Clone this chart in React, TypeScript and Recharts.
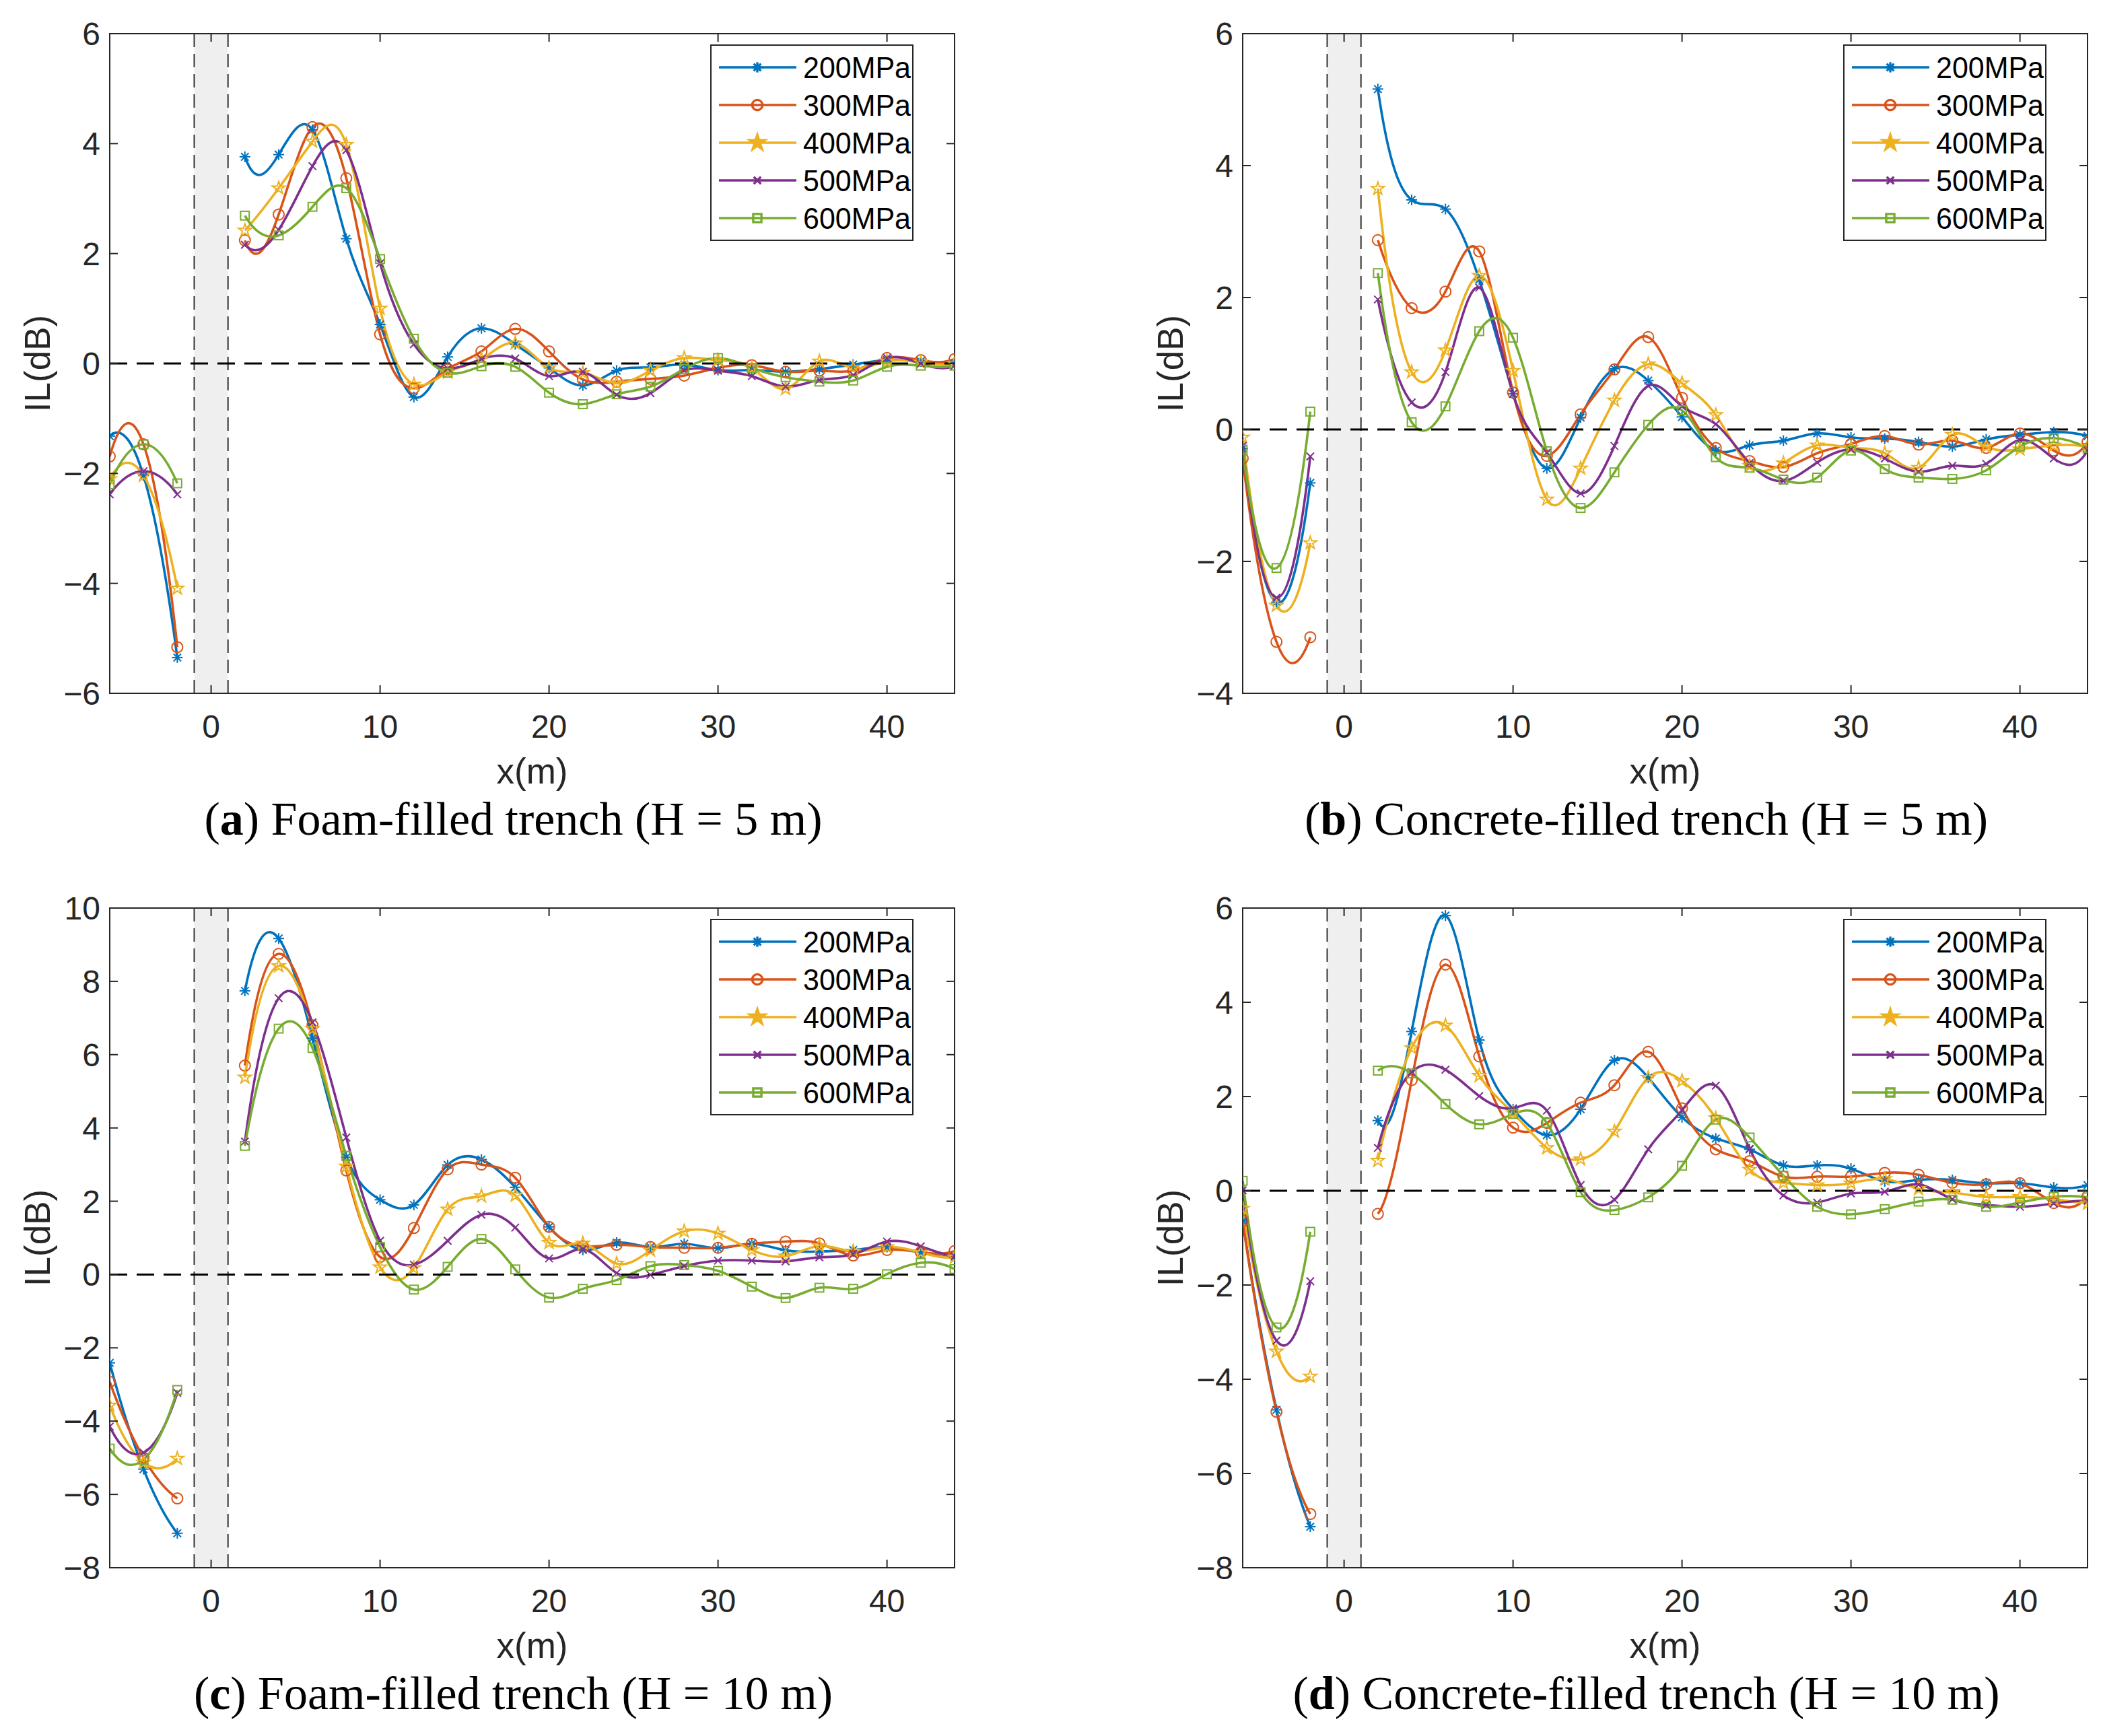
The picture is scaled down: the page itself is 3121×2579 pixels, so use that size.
import React from "react";
import {
  LineChart,
  Line,
  XAxis,
  YAxis,
  ReferenceArea,
  ReferenceLine,
} from "recharts";

// positions along the ground surface (m); the trench sits between -1 and 1
const X_POS = [-6, -4, -2, 2, 4, 6, 8, 10, 12, 14, 16, 18, 20, 22, 24, 26, 28, 30, 32, 34, 36, 38, 40, 42, 44];
const X_TICKS = [0, 10, 20, 30, 40];

const SERIES = ["200MPa", "300MPa", "400MPa", "500MPa", "600MPa"];
const COLORS = ["#0072BD", "#D95319", "#EDB120", "#7E2F8E", "#77AC30"];
const MARKERS = ["asterisk", "circle", "star", "cross", "square"];

// (a) foam-filled trench, H = 5 m
const A_200 = [-1.32, -2.04, -5.35, 3.76, 3.8, 4.25, 2.27, 0.71, -0.61, 0.12, 0.64, 0.35, -0.08, -0.4, -0.13, -0.07, -0.02, -0.12, -0.12, -0.15, -0.1, -0.02, 0.06, 0.04, 0.0];
const A_300 = [-1.69, -1.47, -5.16, 2.24, 2.71, 4.3, 3.37, 0.53, -0.45, -0.1, 0.22, 0.63, 0.22, -0.29, -0.33, -0.28, -0.22, -0.08, -0.03, -0.15, -0.13, -0.13, 0.1, 0.06, 0.08];
const A_400 = [-2.1, -2.04, -4.09, 2.42, 3.19, 4.04, 3.98, 1.0, -0.38, -0.16, 0.08, 0.37, -0.08, -0.17, -0.36, -0.13, 0.1, 0.06, -0.08, -0.46, 0.04, -0.08, 0.04, 0.02, 0.0];
const A_500 = [-2.38, -1.96, -2.38, 2.16, 2.43, 3.59, 3.88, 1.82, 0.35, -0.09, 0.08, 0.09, -0.23, -0.15, -0.57, -0.54, -0.13, -0.13, -0.23, -0.42, -0.3, -0.21, 0.1, 0.0, -0.04];
const A_600 = [-2.2, -1.47, -2.18, 2.69, 2.33, 2.85, 3.19, 1.9, 0.45, -0.17, -0.05, -0.06, -0.53, -0.74, -0.56, -0.42, -0.1, 0.1, -0.08, -0.25, -0.33, -0.31, -0.06, -0.04, -0.04];

// (b) concrete-filled trench, H = 5 m
const B_200 = [-0.29, -2.62, -0.81, 5.16, 3.48, 3.34, 2.27, 0.54, -0.59, 0.18, 0.92, 0.74, 0.19, -0.32, -0.24, -0.17, -0.06, -0.12, -0.14, -0.19, -0.26, -0.15, -0.08, -0.04, -0.1];
const B_300 = [-0.44, -3.22, -3.15, 2.87, 1.84, 2.09, 2.7, 0.56, -0.4, 0.23, 0.91, 1.4, 0.48, -0.28, -0.48, -0.57, -0.36, -0.22, -0.1, -0.23, -0.17, -0.28, -0.06, -0.32, -0.19];
const B_400 = [-0.12, -2.67, -1.72, 3.65, 0.87, 1.2, 2.33, 0.89, -1.06, -0.59, 0.44, 0.99, 0.7, 0.22, -0.55, -0.51, -0.24, -0.28, -0.36, -0.58, -0.08, -0.26, -0.3, -0.24, -0.26];
const B_500 = [-0.25, -2.55, -0.41, 1.97, 0.41, 0.87, 2.15, 0.54, -0.35, -0.97, -0.25, 0.66, 0.35, 0.08, -0.51, -0.78, -0.5, -0.3, -0.44, -0.64, -0.55, -0.52, -0.16, -0.44, -0.32];
const B_600 = [-0.31, -2.1, 0.27, 2.37, 0.11, 0.35, 1.49, 1.39, -0.33, -1.19, -0.65, 0.07, 0.29, -0.42, -0.58, -0.76, -0.73, -0.32, -0.6, -0.73, -0.75, -0.62, -0.26, -0.13, -0.28];

// (c) foam-filled trench, H = 10 m
const C_200 = [-2.41, -5.31, -7.06, 7.74, 9.17, 6.45, 3.2, 2.04, 1.9, 2.99, 3.14, 2.38, 1.3, 0.67, 0.87, 0.75, 0.84, 0.72, 0.84, 0.66, 0.63, 0.67, 0.75, 0.6, 0.47];
const C_300 = [-2.93, -5.0, -6.11, 5.7, 8.75, 6.8, 2.84, 0.48, 1.27, 2.87, 3.0, 2.64, 1.3, 0.77, 0.81, 0.75, 0.73, 0.73, 0.84, 0.9, 0.85, 0.52, 0.67, 0.61, 0.64];
const C_400 = [-3.57, -5.13, -5.02, 5.38, 8.42, 6.7, 2.95, 0.2, 0.18, 1.78, 2.14, 2.16, 0.87, 0.85, 0.3, 0.66, 1.18, 1.12, 0.67, 0.5, 0.78, 0.63, 0.75, 0.6, 0.47];
const C_500 = [-4.15, -4.86, -3.23, 3.63, 7.54, 6.88, 3.74, 0.92, 0.27, 0.92, 1.63, 1.28, 0.44, 0.69, 0.04, -0.01, 0.23, 0.38, 0.38, 0.36, 0.47, 0.55, 0.9, 0.77, 0.5];
const C_600 = [-4.75, -5.05, -3.15, 3.51, 6.71, 6.18, 3.24, 0.75, -0.41, 0.21, 0.97, 0.14, -0.63, -0.39, -0.15, 0.23, 0.26, 0.1, -0.33, -0.64, -0.36, -0.39, 0.01, 0.32, 0.15];

// (d) concrete-filled trench, H = 10 m
const D_200 = [-0.64, -4.65, -7.13, 1.49, 3.38, 5.84, 3.2, 1.73, 1.18, 1.73, 2.77, 2.4, 1.56, 1.11, 0.88, 0.54, 0.54, 0.47, 0.2, 0.23, 0.23, 0.16, 0.16, 0.07, 0.12];
const D_300 = [-0.64, -4.69, -6.86, -0.49, 2.35, 4.8, 2.85, 1.34, 1.44, 1.87, 2.24, 2.95, 1.75, 0.88, 0.63, 0.3, 0.3, 0.3, 0.38, 0.34, 0.17, 0.14, 0.16, -0.26, -0.12];
const D_400 = [-0.38, -3.41, -3.94, 0.64, 3.03, 3.51, 2.44, 1.65, 0.91, 0.67, 1.26, 2.4, 2.33, 1.54, 0.45, 0.17, 0.12, 0.16, 0.25, 0.04, -0.04, -0.13, -0.13, -0.18, -0.27];
const D_500 = [0.01, -3.18, -1.92, 0.91, 2.52, 2.57, 2.01, 1.75, 1.7, 0.12, -0.19, 0.88, 1.71, 2.23, 0.89, -0.1, -0.25, -0.06, -0.02, 0.13, -0.18, -0.3, -0.34, -0.27, -0.21];
const D_600 = [0.21, -2.9, -0.87, 2.55, 2.49, 1.84, 1.41, 1.63, 1.44, -0.03, -0.41, -0.14, 0.53, 1.51, 1.13, 0.32, -0.34, -0.5, -0.39, -0.23, -0.19, -0.34, -0.25, -0.13, -0.14];

const TICKS_A = [-6, -4, -2, 0, 2, 4, 6];
const TICKS_B = [-4, -2, 0, 2, 4, 6];
const TICKS_C = [-8, -6, -4, -2, 0, 2, 4, 6, 8, 10];
const TICKS_D = [-8, -6, -4, -2, 0, 2, 4, 6];

// chart geometry (same inside every panel)
const CW = 1440;
const CH = 1120;
const PL = 163;
const PR = 1418;
const PT = 50;
const PB = 1030;
const AXIS = "#262626";
const SANS = "'Liberation Sans', Arial, Helvetica, sans-serif";
const SERIF = "'Liberation Serif', 'Times New Roman', serif";
const TICK_FONT = 48;

const PANELS = [
  { key: "a", left: 0, top: 0, values: [A_200, A_300, A_400, A_500, A_600], ticks: TICKS_A, label: "Foam-filled trench (H = 5 m)" },
  { key: "b", left: 1683, top: 0, values: [B_200, B_300, B_400, B_500, B_600], ticks: TICKS_B, label: "Concrete-filled trench (H = 5 m)" },
  { key: "c", left: 0, top: 1299, values: [C_200, C_300, C_400, C_500, C_600], ticks: TICKS_C, label: "Foam-filled trench (H = 10 m)" },
  { key: "d", left: 1683, top: 1299, values: [D_200, D_300, D_400, D_500, D_600], ticks: TICKS_D, label: "Concrete-filled trench (H = 10 m)" },
];

const fmt = (v: number) => (v < 0 ? `\u2212${Math.abs(v)}` : `${v}`);

// MATLAB-like 'spline' (not-a-knot cubic) as a d3 curve factory
function solve(A: number[][], b: number[]) {
  const n = b.length;
  for (let c = 0; c < n; c++) {
    let p = c;
    for (let r = c + 1; r < n; r++) if (Math.abs(A[r][c]) > Math.abs(A[p][c])) p = r;
    [A[c], A[p]] = [A[p], A[c]];
    [b[c], b[p]] = [b[p], b[c]];
    for (let r = c + 1; r < n; r++) {
      const f = A[r][c] / A[c][c];
      for (let k = c; k < n; k++) A[r][k] -= f * A[c][k];
      b[r] -= f * b[c];
    }
  }
  const x = new Array(n).fill(0);
  for (let r = n - 1; r >= 0; r--) {
    let s = b[r];
    for (let k = r + 1; k < n; k++) s -= A[r][k] * x[k];
    x[r] = s / A[r][r];
  }
  return x;
}

function drawSpline(ctx: any, xs: number[], ys: number[]) {
  const n = xs.length;
  if (!n) return;
  ctx.moveTo(xs[0], ys[0]);
  if (n === 1) return;
  if (n === 2) {
    ctx.lineTo(xs[1], ys[1]);
    return;
  }
  const h: number[] = [];
  const d: number[] = [];
  for (let i = 0; i < n - 1; i++) {
    h[i] = xs[i + 1] - xs[i];
    d[i] = (ys[i + 1] - ys[i]) / h[i];
  }
  let M: number[];
  if (n === 3) {
    const c = (2 * (d[1] - d[0])) / (xs[2] - xs[0]);
    M = [c, c, c];
  } else {
    const A = Array.from({ length: n }, () => new Array(n).fill(0));
    const b = new Array(n).fill(0);
    A[0][0] = h[1];
    A[0][1] = -(h[0] + h[1]);
    A[0][2] = h[0];
    for (let i = 1; i < n - 1; i++) {
      A[i][i - 1] = h[i - 1];
      A[i][i] = 2 * (h[i - 1] + h[i]);
      A[i][i + 1] = h[i];
      b[i] = 6 * (d[i] - d[i - 1]);
    }
    A[n - 1][n - 3] = h[n - 2];
    A[n - 1][n - 2] = -(h[n - 3] + h[n - 2]);
    A[n - 1][n - 1] = h[n - 3];
    M = solve(A, b);
  }
  for (let i = 0; i < n - 1; i++) {
    const s0 = d[i] - (h[i] * (2 * M[i] + M[i + 1])) / 6;
    const s1 = d[i] + (h[i] * (M[i] + 2 * M[i + 1])) / 6;
    ctx.bezierCurveTo(
      xs[i] + h[i] / 3, ys[i] + (s0 * h[i]) / 3,
      xs[i + 1] - h[i] / 3, ys[i + 1] - (s1 * h[i]) / 3,
      xs[i + 1], ys[i + 1]
    );
  }
}

function splineCurve(context: any) {
  let xs: number[] = [];
  let ys: number[] = [];
  return {
    areaStart() {},
    areaEnd() {},
    lineStart() {
      xs = [];
      ys = [];
    },
    lineEnd() {
      drawSpline(context, xs, ys);
    },
    point(x: number, y: number) {
      xs.push(+x);
      ys.push(+y);
    },
  };
}

function Marker({ kind, cx, cy, color, sw, s = 1, filled = false }: any) {
  const common = { stroke: color, strokeWidth: sw, fill: "none" };
  if (kind === "circle") return <circle cx={cx} cy={cy} r={8 * s} {...common} />;
  if (kind === "square") {
    const a = 6.4 * s;
    return <rect x={cx - a} y={cy - a} width={2 * a} height={2 * a} {...common} />;
  }
  if (kind === "cross") {
    const a = 5.6 * s;
    return (
      <g {...common}>
        <line x1={cx - a} y1={cy - a} x2={cx + a} y2={cy + a} />
        <line x1={cx - a} y1={cy + a} x2={cx + a} y2={cy - a} />
      </g>
    );
  }
  if (kind === "asterisk") {
    const r = 8 * s;
    const q = r * 0.707;
    return (
      <g {...common}>
        <line x1={cx - r} y1={cy} x2={cx + r} y2={cy} />
        <line x1={cx} y1={cy - r} x2={cx} y2={cy + r} />
        <line x1={cx - q} y1={cy - q} x2={cx + q} y2={cy + q} />
        <line x1={cx - q} y1={cy + q} x2={cx + q} y2={cy - q} />
      </g>
    );
  }
  const R = 10 * s;
  const pts = Array.from({ length: 10 }, (_, i) => {
    const ang = (-90 + i * 36) * (Math.PI / 180);
    const r = i % 2 === 0 ? R : R * 0.382;
    return `${cx + r * Math.cos(ang)},${cy + r * Math.sin(ang)}`;
  }).join(" ");
  return <polygon points={pts} {...common} fill={filled ? color : "none"} strokeLinejoin="miter" />;
}

function buildRows(values: number[][]) {
  const rows: any[] = [];
  X_POS.forEach((x, i) => {
    if (x === 2) {
      const gap: any = { x: 0 };
      values.forEach((_, k) => (gap[`s${k}`] = null));
      rows.push(gap);
    }
    const row: any = { x };
    values.forEach((v, k) => (row[`s${k}`] = v[i]));
    rows.push(row);
  });
  return rows;
}

const XTick = ({ x, payload }: any) => (
  <g>
    <line x1={x} x2={x} y1={PB} y2={PB - 12} stroke={AXIS} strokeWidth={2} />
    <line x1={x} x2={x} y1={PT} y2={PT + 12} stroke={AXIS} strokeWidth={2} />
    <text x={x} y={PB + 66} textAnchor="middle" fontFamily={SANS} fontSize={TICK_FONT} fill={AXIS}>
      {fmt(payload.value)}
    </text>
  </g>
);

const YTick = ({ y, payload }: any) => (
  <g>
    <line x1={PL} x2={PL + 12} y1={y} y2={y} stroke={AXIS} strokeWidth={2} />
    <line x1={PR} x2={PR - 12} y1={y} y2={y} stroke={AXIS} strokeWidth={2} />
    <text x={PL - 14} y={y + 17} textAnchor="end" fontFamily={SANS} fontSize={TICK_FONT} fill={AXIS}>
      {fmt(payload.value)}
    </text>
  </g>
);

function Panel({ values, ticks }: { values: number[][]; ticks: number[] }) {
  const rows = buildRows(values);
  const lo = ticks[0];
  const hi = ticks[ticks.length - 1];
  return (
    <LineChart width={CW} height={CH} data={rows} margin={{ top: PT, right: CW - PR, bottom: 30, left: 13 }}>
      <XAxis
        dataKey="x"
        type="number"
        domain={[-6, 44]}
        ticks={X_TICKS}
        allowDataOverflow
        height={60}
        tickLine={false}
        axisLine={{ stroke: AXIS, strokeWidth: 2 }}
        tick={(p: any) => <XTick {...p} />}
      />
      <YAxis
        type="number"
        domain={[lo, hi]}
        ticks={ticks}
        allowDataOverflow
        width={150}
        tickLine={false}
        axisLine={{ stroke: AXIS, strokeWidth: 2 }}
        tick={(p: any) => <YTick {...p} />}
      />
      <ReferenceArea x1={-1} x2={1} fill="#EFEFEF" fillOpacity={1} stroke="none" />
      <ReferenceLine x={-1} stroke="#333333" strokeWidth={2} strokeDasharray="20 10" />
      <ReferenceLine x={1} stroke="#333333" strokeWidth={2} strokeDasharray="20 10" />
      {values.map((_, k) => (
        <Line
          key={SERIES[k]}
          dataKey={`s${k}`}
          name={SERIES[k]}
          type={splineCurve as any}
          stroke={COLORS[k]}
          strokeWidth={3.6}
          connectNulls={false}
          isAnimationActive={false}
          activeDot={false}
          dot={(p: any) =>
            p.value == null || p.cy == null ? (
              <g key={`d${k}-${p.index}`} />
            ) : (
              <Marker key={`d${k}-${p.index}`} kind={MARKERS[k]} cx={p.cx} cy={p.cy} color={COLORS[k]} sw={2} />
            )
          }
        />
      ))}
      <ReferenceLine y={0} stroke="#000000" strokeWidth={3} strokeDasharray="26 14" />
      <ReferenceArea x1={-6} x2={44} y1={lo} y2={hi} fill="none" stroke={AXIS} strokeWidth={2} />
    </LineChart>
  );
}

function Legend({ x0, y0 }: { x0: number; y0: number }) {
  const w = 300;
  const hgt = 290;
  return (
    <g>
      <rect x={x0} y={y0} width={w} height={hgt} fill="#ffffff" stroke={AXIS} strokeWidth={2} />
      {SERIES.map((name, k) => {
        const cy = y0 + 33 + k * 56;
        const star = MARKERS[k] === "star";
        return (
          <g key={name}>
            <line x1={x0 + 12} x2={x0 + 127} y1={cy} y2={cy} stroke={COLORS[k]} strokeWidth={3.6} />
            <Marker
              kind={MARKERS[k]}
              cx={x0 + 69}
              cy={cy}
              color={COLORS[k]}
              sw={3.4}
              s={star ? 1.2 : 0.95}
              filled={star}
            />
            <text x={x0 + 137} y={cy + 16} fontFamily={SANS} fontSize={45} fill="#000000" textLength={160} lengthAdjust="spacingAndGlyphs">
              {name}
            </text>
          </g>
        );
      })}
    </g>
  );
}

export default function App() {
  return (
    <div style={{ position: "absolute", left: 0, top: 0, width: 3121, height: 2579, background: "#ffffff", overflow: "hidden" }}>
      {PANELS.map((p) => (
        <div key={p.key} style={{ position: "absolute", left: p.left, top: p.top }}>
          <Panel values={p.values} ticks={p.ticks} />
        </div>
      ))}
      <svg width={3121} height={2579} style={{ position: "absolute", left: 0, top: 0, pointerEvents: "none" }}>
        {PANELS.map((p) => {
          const pl = p.left + PL;
          const pr = p.left + PR;
          const pt = p.top + PT;
          const pb = p.top + PB;
          const mid = (pl + pr) / 2;
          return (
            <g key={p.key}>
              <Legend x0={pr - 62 - 300} y0={pt + 17} />
              <text
                x={pl - 108}
                y={(pt + pb) / 2}
                transform={`rotate(-90 ${pl - 108} ${(pt + pb) / 2})`}
                textAnchor="middle"
                dominantBaseline="central"
                fontFamily={SANS}
                fontSize={53}
                fill={AXIS}
              >
                IL(dB)
              </text>
              <text x={mid} y={pb + 115} textAnchor="middle" dominantBaseline="central" fontFamily={SANS} fontSize={53} fill={AXIS}>
                x(m)
              </text>
              <text x={mid - 28} y={pb + 186} textAnchor="middle" dominantBaseline="central" fontFamily={SERIF} fontSize={70} fill="#000000">
                (<tspan fontWeight="bold">{p.key}</tspan>) {p.label}
              </text>
            </g>
          );
        })}
      </svg>
    </div>
  );
}
